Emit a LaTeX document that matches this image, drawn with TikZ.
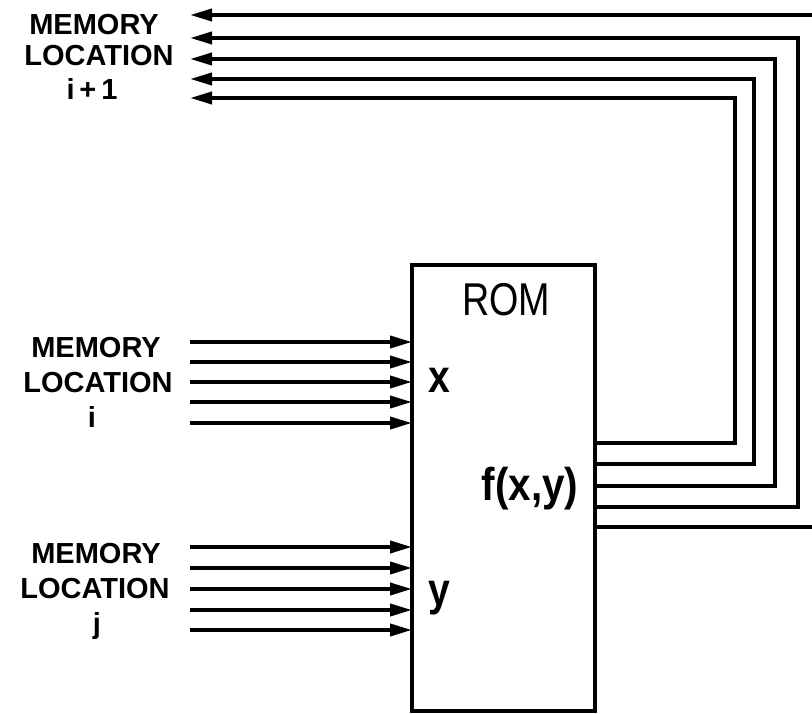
\documentclass[tikz,border=0pt]{standalone}
\usepackage{fontspec}
\setmainfont{Liberation Sans}
\usetikzlibrary{arrows.meta}
\begin{document}
\begin{tikzpicture}[x=1pt,y=-1pt,
  wire/.style={line width=3.8pt, line join=miter},
  arr/.style={wire,-{Triangle[length=22pt,width=12pt]}},
  lbl/.style={font=\fontsize{29}{35}\selectfont\bfseries, anchor=base, inner sep=0pt},
  big/.style={font=\fontsize{46}{50}\selectfont, inner sep=0pt},
  box/.style={draw, line width=4.8pt, inner sep=0pt, outer sep=0pt}]
\clip (0,0) rectangle (812,714);
\fill[white] (0,0) rectangle (812,714);
% ROM box
\node[box, minimum width=183pt, minimum height=446pt] (rom) at (503.5,488) {};
\node[big] (romtxt) at (506,300) {\scalebox{0.82}[1]{ROM}};
\node[big, anchor=center] (xin) at (439,380) {\scalebox{0.85}[1]{\bfseries x}};
\node[big, anchor=base] (yin) at (439,605) {\scalebox{0.85}[1]{\bfseries y}};
\node[big, anchor=base] (fout) at (530,500) {\scalebox{0.88}[1]{\bfseries f(x,y)}};
% labels
\node[lbl] (t1) at (94,35) {MEMORY};
\node[lbl] (t2) at (99,66) {LOCATION};
\node[lbl] (t3) at (92,100) {i\,+\,1};
\node[lbl] (m1) at (96,357) {MEMORY};
\node[lbl] (m2) at (98,392) {LOCATION};
\node[lbl] (m3) at (92,427) {i};
\node[lbl] (b1) at (96,563) {MEMORY};
\node[lbl] (b2) at (95,598) {LOCATION};
\node[lbl] (b3) at (97,633) {j};
% inputs
\foreach \k/\yy in {1/342,2/362,3/382,4/402,5/423}{
  \coordinate (ia\k) at (190,\yy);
  \draw[arr] (ia\k) -- (ia\k -| rom.west);
}
\foreach \k/\yy in {1/547,2/568,3/589,4/610,5/630}{
  \coordinate (ib\k) at (190,\yy);
  \draw[arr] (ib\k) -- (ib\k -| rom.west);
}
% outputs
\foreach \k/\yo/\xt/\yt in {1/443/735/98,2/464/754/79,3/486/775/59,4/507/798/38,5/527/840/15}{
  \coordinate (c\k) at (\xt,\yo);
  \coordinate (ot\k) at (190,\yt);
  \draw[arr] (rom.east |- c\k) -- (c\k) |- (ot\k);
}
\end{tikzpicture}
\end{document}
